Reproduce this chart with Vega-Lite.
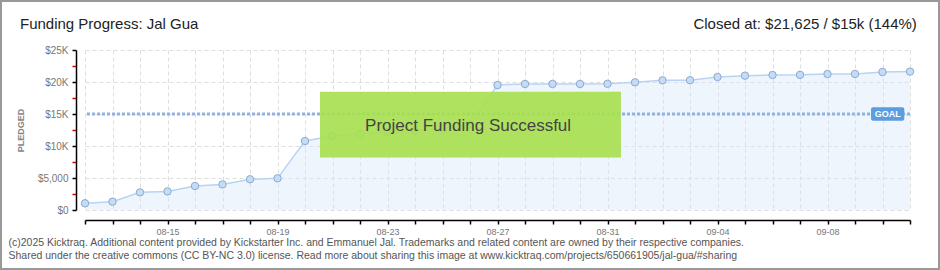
{
  "$schema": "https://vega.github.io/schema/vega-lite/v6.json",
  "width": 825,
  "height": 160,
  "autosize": {"type": "none"},
  "padding": {"left": 85, "top": 50, "right": 30, "bottom": 60},
  "background": "white",
  "config": {"view": {"stroke": null}, "font": "Liberation Sans", "axis": {"labelOverlap": false}},
  "datasets": {
    "pledges": [
      {"date": "2025-08-12T00:00", "pledged": 1050},
      {"date": "2025-08-13T00:00", "pledged": 1300},
      {"date": "2025-08-14T00:00", "pledged": 2760},
      {"date": "2025-08-15T00:00", "pledged": 2900},
      {"date": "2025-08-16T00:00", "pledged": 3750},
      {"date": "2025-08-17T00:00", "pledged": 4000},
      {"date": "2025-08-18T00:00", "pledged": 4800},
      {"date": "2025-08-19T00:00", "pledged": 4950},
      {"date": "2025-08-20T00:00", "pledged": 10780},
      {"date": "2025-08-21T00:00", "pledged": 11550},
      {"date": "2025-08-22T00:00", "pledged": 11950},
      {"date": "2025-08-23T00:00", "pledged": 12150},
      {"date": "2025-08-24T00:00", "pledged": 12400},
      {"date": "2025-08-25T00:00", "pledged": 12700},
      {"date": "2025-08-26T00:00", "pledged": 13400},
      {"date": "2025-08-27T00:00", "pledged": 19530},
      {"date": "2025-08-28T00:00", "pledged": 19690},
      {"date": "2025-08-29T00:00", "pledged": 19700},
      {"date": "2025-08-30T00:00", "pledged": 19700},
      {"date": "2025-08-31T00:00", "pledged": 19720},
      {"date": "2025-09-01T00:00", "pledged": 19950},
      {"date": "2025-09-02T00:00", "pledged": 20260},
      {"date": "2025-09-03T00:00", "pledged": 20280},
      {"date": "2025-09-04T00:00", "pledged": 20780},
      {"date": "2025-09-05T00:00", "pledged": 20990},
      {"date": "2025-09-06T00:00", "pledged": 21100},
      {"date": "2025-09-07T00:00", "pledged": 21120},
      {"date": "2025-09-08T00:00", "pledged": 21250},
      {"date": "2025-09-09T00:00", "pledged": 21260},
      {"date": "2025-09-10T00:00", "pledged": 21560},
      {"date": "2025-09-11T00:00", "pledged": 21625}
    ]
  },
  "layer": [
    {
      "data": {"name": "pledges"},
      "mark": {"type": "area", "fill": "#d5e6f8", "fillOpacity": 0.4},
      "encoding": {
        "x": {
          "field": "date", "type": "temporal",
          "scale": {"domain": [{"year": 2025, "month": 8, "date": 12}, {"year": 2025, "month": 9, "date": 11}], "nice": false},
          "axis": {
            "title": ["(c)2025 Kicktraq. Additional content provided by Kickstarter Inc. and Emmanuel Jal. Trademarks and related content are owned by their respective companies.", "Shared under the creative commons (CC BY-NC 3.0) license. Read more about sharing this image at www.kicktraq.com/projects/650661905/jal-gua/#sharing"],
            "titleAnchor": "start", "titleAlign": "left", "titleX": -77, "titleY": 17, "titleBaseline": "top",
            "titleFontSize": 10.5, "titleFontWeight": "normal", "titleColor": "#555", "titleLineHeight": 13, "titleFont": "Liberation Sans",
            "offset": 10,
            "tickCount": {"interval": "day", "step": 1},
            "labelExpr": "(round((datum.value - datetime(2025,7,12))/86400000) - 3) % 4 == 0 ? timeFormat(datum.value, '%m-%d') : ''",
            "labelColor": "#777", "labelFontSize": 9, "labelPadding": 3, "labelOverlap": false, "labelFlush": false,
            "tickSize": 4, "tickColor": "#000", "tickWidth": 1.5,
            "domainColor": "#000", "domainWidth": 1.5,
            "grid": true, "gridColor": "#dedede", "gridDash": [4, 3]
          }
        },
        "y": {
          "field": "pledged", "type": "quantitative",
          "scale": {"domain": [0, 25000], "nice": false},
          "axis": {
            "title": "PLEDGED", "titleX": -56, "titleY": 80, "titleAngle": -90, "titleAlign": "center", "titleBaseline": "middle",
            "titleFontSize": 9, "titleFontWeight": "bold", "titleColor": "#888",
            "offset": 9,
            "values": [0, 2500, 5000, 7500, 10000, 12500, 15000, 17500, 20000, 22500, 25000],
            "labelExpr": "datum.value % 5000 != 0 ? '' : datum.value == 0 ? '$0' : datum.value == 5000 ? '$5,000' : '$' + (datum.value/1000) + 'K'",
            "labelColor": "#777", "labelFontSize": 10, "labelPadding": 4, "labelOverlap": false,
            "tickSize": 4, "tickWidth": 1.5,
            "tickColor": {"condition": {"test": "datum.value % 5000 != 0", "value": "#e00000"}, "value": "#000"},
            "domainColor": "#000", "domainWidth": 1.5,
            "grid": true, "gridColor": "#dedede", "gridDash": [4, 3],
            "gridOpacity": {"condition": {"test": "datum.value % 5000 != 0", "value": 0}, "value": 1}
          }
        }
      }
    },
    {
      "data": {"name": "pledges"},
      "mark": {"type": "line", "color": "#b8d4f2", "strokeWidth": 1.5},
      "encoding": {
        "x": {"field": "date", "type": "temporal"},
        "y": {"field": "pledged", "type": "quantitative",
          "axis": {
            "title": "PLEDGED", "titleX": -56, "titleY": 80, "titleAngle": -90, "titleAlign": "center", "titleBaseline": "middle",
            "titleFontSize": 9, "titleFontWeight": "bold", "titleColor": "#888",
            "offset": 9,
            "values": [0, 2500, 5000, 7500, 10000, 12500, 15000, 17500, 20000, 22500, 25000],
            "labelExpr": "datum.value % 5000 != 0 ? '' : datum.value == 0 ? '$0' : datum.value == 5000 ? '$5,000' : '$' + (datum.value/1000) + 'K'",
            "labelColor": "#777", "labelFontSize": 10, "labelPadding": 4, "labelOverlap": false,
            "tickSize": 4, "tickWidth": 1.5,
            "tickColor": {"condition": {"test": "datum.value % 5000 != 0", "value": "#e00000"}, "value": "#000"},
            "domainColor": "#000", "domainWidth": 1.5,
            "grid": true, "gridColor": "#dedede", "gridDash": [4, 3],
            "gridOpacity": {"condition": {"test": "datum.value % 5000 != 0", "value": 0}, "value": 1}
          }}
      }
    },
    {
      "data": {"name": "pledges"},
      "mark": {"type": "point", "filled": true, "fill": "#c4dcf6", "stroke": "#8ca9cf", "strokeWidth": 1, "size": 55, "opacity": 1},
      "encoding": {
        "x": {"field": "date", "type": "temporal"},
        "y": {"field": "pledged", "type": "quantitative",
          "axis": {
            "title": "PLEDGED", "titleX": -56, "titleY": 80, "titleAngle": -90, "titleAlign": "center", "titleBaseline": "middle",
            "titleFontSize": 9, "titleFontWeight": "bold", "titleColor": "#888",
            "offset": 9,
            "values": [0, 2500, 5000, 7500, 10000, 12500, 15000, 17500, 20000, 22500, 25000],
            "labelExpr": "datum.value % 5000 != 0 ? '' : datum.value == 0 ? '$0' : datum.value == 5000 ? '$5,000' : '$' + (datum.value/1000) + 'K'",
            "labelColor": "#777", "labelFontSize": 10, "labelPadding": 4, "labelOverlap": false,
            "tickSize": 4, "tickWidth": 1.5,
            "tickColor": {"condition": {"test": "datum.value % 5000 != 0", "value": "#e00000"}, "value": "#000"},
            "domainColor": "#000", "domainWidth": 1.5,
            "grid": true, "gridColor": "#dedede", "gridDash": [4, 3],
            "gridOpacity": {"condition": {"test": "datum.value % 5000 != 0", "value": 0}, "value": 1}
          }}
      }
    },
    {
      "data": {"values": [{}]},
      "mark": {"type": "rule", "color": "#8db4e2", "strokeWidth": 3, "strokeDash": [3, 2]},
      "encoding": {"y": {"datum": 15000, "type": "quantitative",
          "axis": {
            "title": "PLEDGED", "titleX": -56, "titleY": 80, "titleAngle": -90, "titleAlign": "center", "titleBaseline": "middle",
            "titleFontSize": 9, "titleFontWeight": "bold", "titleColor": "#888",
            "offset": 9,
            "values": [0, 2500, 5000, 7500, 10000, 12500, 15000, 17500, 20000, 22500, 25000],
            "labelExpr": "datum.value % 5000 != 0 ? '' : datum.value == 0 ? '$0' : datum.value == 5000 ? '$5,000' : '$' + (datum.value/1000) + 'K'",
            "labelColor": "#777", "labelFontSize": 10, "labelPadding": 4, "labelOverlap": false,
            "tickSize": 4, "tickWidth": 1.5,
            "tickColor": {"condition": {"test": "datum.value % 5000 != 0", "value": "#e00000"}, "value": "#000"},
            "domainColor": "#000", "domainWidth": 1.5,
            "grid": true, "gridColor": "#dedede", "gridDash": [4, 3],
            "gridOpacity": {"condition": {"test": "datum.value % 5000 != 0", "value": 0}, "value": 1}
          }}}
    },
    {
      "data": {"values": [{}]},
      "mark": {"type": "rect", "fill": "#a8df50", "opacity": 0.92},
      "encoding": {
        "x": {"datum": {"year": 2025, "month": 8, "date": 20, "hours": 13, "minutes": 5}, "type": "temporal"},
        "x2": {"datum": {"year": 2025, "month": 8, "date": 31, "hours": 11, "minutes": 45}},
        "y": {"datum": 8200, "type": "quantitative",
          "axis": {
            "title": "PLEDGED", "titleX": -56, "titleY": 80, "titleAngle": -90, "titleAlign": "center", "titleBaseline": "middle",
            "titleFontSize": 9, "titleFontWeight": "bold", "titleColor": "#888",
            "offset": 9,
            "values": [0, 2500, 5000, 7500, 10000, 12500, 15000, 17500, 20000, 22500, 25000],
            "labelExpr": "datum.value % 5000 != 0 ? '' : datum.value == 0 ? '$0' : datum.value == 5000 ? '$5,000' : '$' + (datum.value/1000) + 'K'",
            "labelColor": "#777", "labelFontSize": 10, "labelPadding": 4, "labelOverlap": false,
            "tickSize": 4, "tickWidth": 1.5,
            "tickColor": {"condition": {"test": "datum.value % 5000 != 0", "value": "#e00000"}, "value": "#000"},
            "domainColor": "#000", "domainWidth": 1.5,
            "grid": true, "gridColor": "#dedede", "gridDash": [4, 3],
            "gridOpacity": {"condition": {"test": "datum.value % 5000 != 0", "value": 0}, "value": 1}
          }},
        "y2": {"datum": 18480}
      }
    },
    {
      "data": {"values": [{}]},
      "mark": {"type": "text", "text": "Project Funding Successful", "fontSize": 17, "color": "#444", "font": "Liberation Sans", "align": "center", "baseline": "middle"},
      "encoding": {
        "x": {"datum": {"year": 2025, "month": 8, "date": 25, "hours": 22, "minutes": 20}, "type": "temporal"},
        "y": {"datum": 13100, "type": "quantitative",
          "axis": {
            "title": "PLEDGED", "titleX": -56, "titleY": 80, "titleAngle": -90, "titleAlign": "center", "titleBaseline": "middle",
            "titleFontSize": 9, "titleFontWeight": "bold", "titleColor": "#888",
            "offset": 9,
            "values": [0, 2500, 5000, 7500, 10000, 12500, 15000, 17500, 20000, 22500, 25000],
            "labelExpr": "datum.value % 5000 != 0 ? '' : datum.value == 0 ? '$0' : datum.value == 5000 ? '$5,000' : '$' + (datum.value/1000) + 'K'",
            "labelColor": "#777", "labelFontSize": 10, "labelPadding": 4, "labelOverlap": false,
            "tickSize": 4, "tickWidth": 1.5,
            "tickColor": {"condition": {"test": "datum.value % 5000 != 0", "value": "#e00000"}, "value": "#000"},
            "domainColor": "#000", "domainWidth": 1.5,
            "grid": true, "gridColor": "#dedede", "gridDash": [4, 3],
            "gridOpacity": {"condition": {"test": "datum.value % 5000 != 0", "value": 0}, "value": 1}
          }}
      }
    },
    {
      "data": {"values": [{}]},
      "mark": {"type": "rect", "fill": "#5b9de0", "cornerRadius": 2},
      "encoding": {
        "x": {"datum": {"year": 2025, "month": 9, "date": 9, "hours": 14}, "type": "temporal"},
        "x2": {"datum": {"year": 2025, "month": 9, "date": 10, "hours": 19}},
        "y": {"datum": 13950, "type": "quantitative",
          "axis": {
            "title": "PLEDGED", "titleX": -56, "titleY": 80, "titleAngle": -90, "titleAlign": "center", "titleBaseline": "middle",
            "titleFontSize": 9, "titleFontWeight": "bold", "titleColor": "#888",
            "offset": 9,
            "values": [0, 2500, 5000, 7500, 10000, 12500, 15000, 17500, 20000, 22500, 25000],
            "labelExpr": "datum.value % 5000 != 0 ? '' : datum.value == 0 ? '$0' : datum.value == 5000 ? '$5,000' : '$' + (datum.value/1000) + 'K'",
            "labelColor": "#777", "labelFontSize": 10, "labelPadding": 4, "labelOverlap": false,
            "tickSize": 4, "tickWidth": 1.5,
            "tickColor": {"condition": {"test": "datum.value % 5000 != 0", "value": "#e00000"}, "value": "#000"},
            "domainColor": "#000", "domainWidth": 1.5,
            "grid": true, "gridColor": "#dedede", "gridDash": [4, 3],
            "gridOpacity": {"condition": {"test": "datum.value % 5000 != 0", "value": 0}, "value": 1}
          }},
        "y2": {"datum": 16050}
      }
    },
    {
      "data": {"values": [{}]},
      "mark": {"type": "text", "text": "GOAL", "fontSize": 9, "fontWeight": "bold", "color": "white", "align": "center", "baseline": "middle"},
      "encoding": {
        "x": {"datum": {"year": 2025, "month": 9, "date": 10, "hours": 4, "minutes": 30}, "type": "temporal"},
        "y": {"datum": 15000, "type": "quantitative",
          "axis": {
            "title": "PLEDGED", "titleX": -56, "titleY": 80, "titleAngle": -90, "titleAlign": "center", "titleBaseline": "middle",
            "titleFontSize": 9, "titleFontWeight": "bold", "titleColor": "#888",
            "offset": 9,
            "values": [0, 2500, 5000, 7500, 10000, 12500, 15000, 17500, 20000, 22500, 25000],
            "labelExpr": "datum.value % 5000 != 0 ? '' : datum.value == 0 ? '$0' : datum.value == 5000 ? '$5,000' : '$' + (datum.value/1000) + 'K'",
            "labelColor": "#777", "labelFontSize": 10, "labelPadding": 4, "labelOverlap": false,
            "tickSize": 4, "tickWidth": 1.5,
            "tickColor": {"condition": {"test": "datum.value % 5000 != 0", "value": "#e00000"}, "value": "#000"},
            "domainColor": "#000", "domainWidth": 1.5,
            "grid": true, "gridColor": "#dedede", "gridDash": [4, 3],
            "gridOpacity": {"condition": {"test": "datum.value % 5000 != 0", "value": 0}, "value": 1}
          }}
      }
    },
    {
      "data": {"values": [{}]},
      "mark": {"type": "text", "text": "Funding Progress: Jal Gua", "fontSize": 15, "color": "#222", "align": "left", "baseline": "middle", "font": "Liberation Sans"},
      "encoding": {
        "x": {"datum": {"year": 2025, "month": 8, "date": 9, "hours": 15, "minutes": 16}, "type": "temporal"},
        "y": {"datum": 29060, "type": "quantitative",
          "axis": {
            "title": "PLEDGED", "titleX": -56, "titleY": 80, "titleAngle": -90, "titleAlign": "center", "titleBaseline": "middle",
            "titleFontSize": 9, "titleFontWeight": "bold", "titleColor": "#888",
            "offset": 9,
            "values": [0, 2500, 5000, 7500, 10000, 12500, 15000, 17500, 20000, 22500, 25000],
            "labelExpr": "datum.value % 5000 != 0 ? '' : datum.value == 0 ? '$0' : datum.value == 5000 ? '$5,000' : '$' + (datum.value/1000) + 'K'",
            "labelColor": "#777", "labelFontSize": 10, "labelPadding": 4, "labelOverlap": false,
            "tickSize": 4, "tickWidth": 1.5,
            "tickColor": {"condition": {"test": "datum.value % 5000 != 0", "value": "#e00000"}, "value": "#000"},
            "domainColor": "#000", "domainWidth": 1.5,
            "grid": true, "gridColor": "#dedede", "gridDash": [4, 3],
            "gridOpacity": {"condition": {"test": "datum.value % 5000 != 0", "value": 0}, "value": 1}
          }}
      }
    },
    {
      "data": {"values": [{}]},
      "mark": {"type": "text", "text": "Closed at: $21,625 / $15k (144%)", "fontSize": 15, "color": "#222", "align": "right", "baseline": "middle", "font": "Liberation Sans"},
      "encoding": {
        "x": {"datum": {"year": 2025, "month": 9, "date": 11, "hours": 6}, "type": "temporal"},
        "y": {"datum": 29060, "type": "quantitative",
          "axis": {
            "title": "PLEDGED", "titleX": -56, "titleY": 80, "titleAngle": -90, "titleAlign": "center", "titleBaseline": "middle",
            "titleFontSize": 9, "titleFontWeight": "bold", "titleColor": "#888",
            "offset": 9,
            "values": [0, 2500, 5000, 7500, 10000, 12500, 15000, 17500, 20000, 22500, 25000],
            "labelExpr": "datum.value % 5000 != 0 ? '' : datum.value == 0 ? '$0' : datum.value == 5000 ? '$5,000' : '$' + (datum.value/1000) + 'K'",
            "labelColor": "#777", "labelFontSize": 10, "labelPadding": 4, "labelOverlap": false,
            "tickSize": 4, "tickWidth": 1.5,
            "tickColor": {"condition": {"test": "datum.value % 5000 != 0", "value": "#e00000"}, "value": "#000"},
            "domainColor": "#000", "domainWidth": 1.5,
            "grid": true, "gridColor": "#dedede", "gridDash": [4, 3],
            "gridOpacity": {"condition": {"test": "datum.value % 5000 != 0", "value": 0}, "value": 1}
          }}
      }
    },
    {
      "data": {"values": [{}]},
      "mark": {"type": "rect", "fillOpacity": 0, "stroke": "#999", "strokeWidth": 2},
      "encoding": {
        "x": {"datum": {"year": 2025, "month": 8, "date": 8, "hours": 22, "minutes": 41}, "type": "temporal"},
        "x2": {"datum": {"year": 2025, "month": 9, "date": 12, "hours": 1, "minutes": 19}},
        "y": {"datum": -9219, "type": "quantitative",
          "axis": {
            "title": "PLEDGED", "titleX": -56, "titleY": 80, "titleAngle": -90, "titleAlign": "center", "titleBaseline": "middle",
            "titleFontSize": 9, "titleFontWeight": "bold", "titleColor": "#888",
            "offset": 9,
            "values": [0, 2500, 5000, 7500, 10000, 12500, 15000, 17500, 20000, 22500, 25000],
            "labelExpr": "datum.value % 5000 != 0 ? '' : datum.value == 0 ? '$0' : datum.value == 5000 ? '$5,000' : '$' + (datum.value/1000) + 'K'",
            "labelColor": "#777", "labelFontSize": 10, "labelPadding": 4, "labelOverlap": false,
            "tickSize": 4, "tickWidth": 1.5,
            "tickColor": {"condition": {"test": "datum.value % 5000 != 0", "value": "#e00000"}, "value": "#000"},
            "domainColor": "#000", "domainWidth": 1.5,
            "grid": true, "gridColor": "#dedede", "gridDash": [4, 3],
            "gridOpacity": {"condition": {"test": "datum.value % 5000 != 0", "value": 0}, "value": 1}
          }},
        "y2": {"datum": 32656}
      }
    }
  ]
}
